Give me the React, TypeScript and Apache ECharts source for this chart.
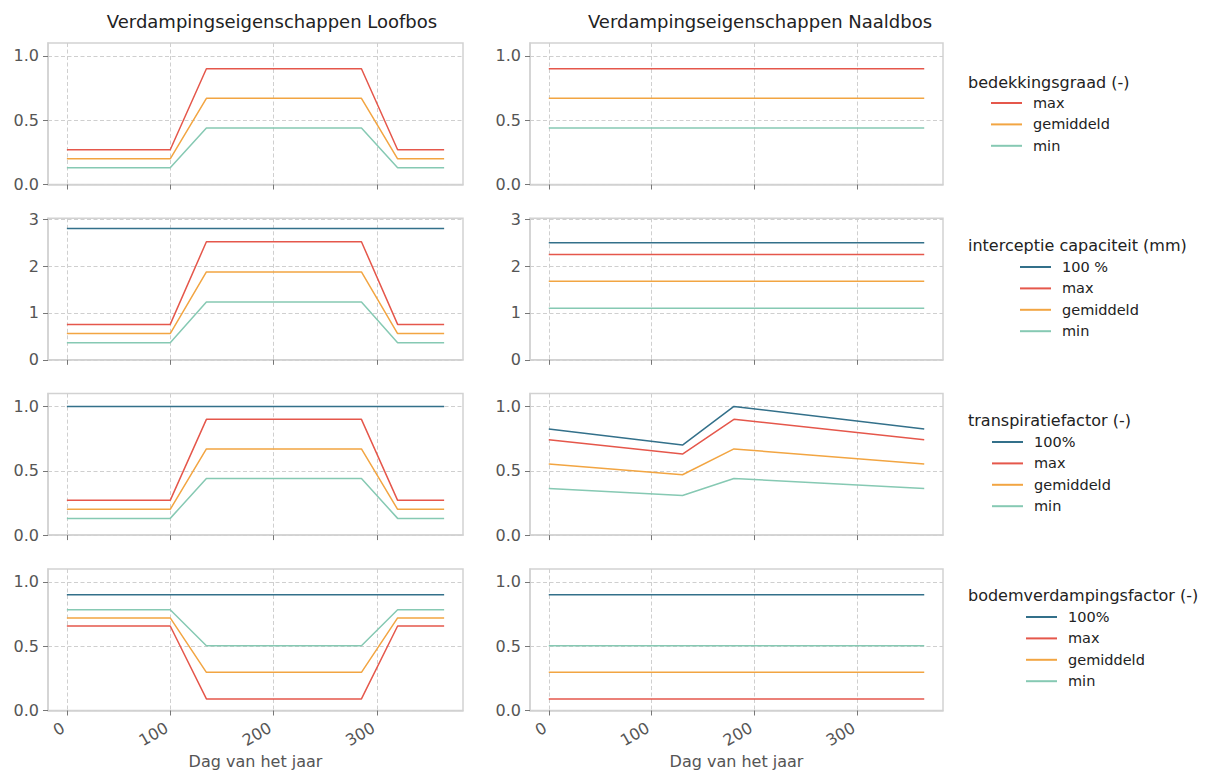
import React, { useEffect, useRef } from 'react';
import * as echarts from 'echarts';

// Dagen (x-waarden)
const dagenLoof = [0, 100, 135, 285, 320, 365];
const dagenConstant = [0, 365];
const dagenTranspNaald = [0, 130, 180, 365];

// Loofbos
const loofBedekMax = [0.27, 0.27, 0.9, 0.9, 0.27, 0.27];
const loofBedekGem = [0.2, 0.2, 0.67, 0.67, 0.2, 0.2];
const loofBedekMin = [0.13, 0.13, 0.44, 0.44, 0.13, 0.13];

const loofInterc100 = [2.8, 2.8, 2.8, 2.8, 2.8, 2.8];
const loofIntercMax = [0.756, 0.756, 2.52, 2.52, 0.756, 0.756];
const loofIntercGem = [0.56, 0.56, 1.876, 1.876, 0.56, 0.56];
const loofIntercMin = [0.364, 0.364, 1.232, 1.232, 0.364, 0.364];

const loofTransp100 = [1, 1, 1, 1, 1, 1];
const loofTranspMax = [0.27, 0.27, 0.9, 0.9, 0.27, 0.27];
const loofTranspGem = [0.2, 0.2, 0.67, 0.67, 0.2, 0.2];
const loofTranspMin = [0.13, 0.13, 0.44, 0.44, 0.13, 0.13];

const loofBodem100 = [0.9, 0.9, 0.9, 0.9, 0.9, 0.9];
const loofBodemMax = [0.657, 0.657, 0.09, 0.09, 0.657, 0.657];
const loofBodemGem = [0.72, 0.72, 0.297, 0.297, 0.72, 0.72];
const loofBodemMin = [0.783, 0.783, 0.504, 0.504, 0.783, 0.783];

// Naaldbos
const naaldBedekMax = [0.9, 0.9];
const naaldBedekGem = [0.67, 0.67];
const naaldBedekMin = [0.44, 0.44];

const naaldInterc100 = [2.5, 2.5];
const naaldIntercMax = [2.25, 2.25];
const naaldIntercGem = [1.675, 1.675];
const naaldIntercMin = [1.1, 1.1];

const naaldTransp100 = [0.824, 0.7, 1.0, 0.824];
const naaldTranspMax = [0.742, 0.63, 0.9, 0.742];
const naaldTranspGem = [0.552, 0.469, 0.67, 0.552];
const naaldTranspMin = [0.363, 0.308, 0.44, 0.363];

const naaldBodem100 = [0.9, 0.9];
const naaldBodemMax = [0.09, 0.09];
const naaldBodemGem = [0.297, 0.297];
const naaldBodemMin = [0.504, 0.504];

// Tick labels / texts
const xTicks = [0, 100, 200, 300];
const yTicksFactor = [0, 0.5, 1.0];
const yTicksInterc = [0, 1, 2, 3];
const kolomTitels = ['Verdampingseigenschappen Loofbos', 'Verdampingseigenschappen Naaldbos'];
const legendTitels = ['bedekkingsgraad (-)', 'interceptie capaciteit (mm)', 'transpiratiefactor (-)', 'bodemverdampingsfactor (-)'];
const xAsNaam = 'Dag van het jaar';

const KLEUR_100 = '#33708a';
const KLEUR_MAX = '#e5574b';
const KLEUR_GEM = '#f2a542';
const KLEUR_MIN = '#86c9b3';
const FONT = 'DejaVu Sans';

const GRID_LEFT = [48, 530];
const GRID_WIDTH = [415, 413];
const ROW_TOP = [43, 218.3, 393.6, 569];
const ROW_H = 141.5;

function buildOption() {
  const grids: any[] = [];
  const xAxes: any[] = [];
  const yAxes: any[] = [];
  const series: any[] = [];

  for (let r = 0; r < 4; r++) {
    for (let c = 0; c < 2; c++) {
      const idx = r * 2 + c;
      grids.push({
        left: GRID_LEFT[c],
        top: ROW_TOP[r],
        width: GRID_WIDTH[c],
        height: ROW_H,
        show: true,
        borderColor: '#d2d2d2',
        borderWidth: 1.5,
        backgroundColor: 'transparent',
      });
      const last = r === 3;
      xAxes.push({
        type: 'value',
        gridIndex: idx,
        min: -18.25,
        max: 383.25,
        name: last ? xAsNaam : '',
        nameLocation: 'middle',
        nameGap: 43,
        nameTextStyle: { fontSize: 16, color: '#555', fontFamily: FONT },
        axisLine: { show: true, onZero: false, lineStyle: { color: '#d2d2d2', width: 1.5 } },
        axisTick: { show: true, length: 5, customValues: xTicks, lineStyle: { color: '#777', width: 1 } },
        axisLabel: {
          show: last,
          customValues: xTicks,
          rotate: 30,
          margin: 14,
          padding: [0, 4, 0, 0],
          fontSize: 16,
          color: '#555',
          fontFamily: FONT,
        },
        splitLine: { show: true, lineStyle: { color: '#cfcfcf', type: [4, 2.5], width: 1 } },
      });
      const interc = r === 1;
      yAxes.push({
        type: 'value',
        gridIndex: idx,
        min: 0,
        max: interc ? 3.02 : 1.1,
        interval: interc ? 1 : 0.5,
        axisLine: { show: true, onZero: false, lineStyle: { color: '#d2d2d2', width: 1.5 } },
        axisTick: { show: true, length: 5, customValues: interc ? yTicksInterc : yTicksFactor, lineStyle: { color: '#777', width: 1 } },
        axisLabel: {
          show: true,
          customValues: interc ? yTicksInterc : yTicksFactor,
          margin: 9,
          fontSize: 16,
          color: '#555',
          fontFamily: FONT,
          formatter: (v: number) => (interc ? String(Math.round(v)) : v.toFixed(1)),
        },
        splitLine: { show: true, lineStyle: { color: '#cfcfcf', type: [4, 2.5], width: 1 } },
      });
    }
  }

  const addLine = (grid: number, name: string, color: string, xs: number[], ys: number[]) => {
    series.push({
      type: 'line',
      name,
      xAxisIndex: grid,
      yAxisIndex: grid,
      data: xs.map((x, i) => [x, ys[i]]),
      showSymbol: false,
      symbol: 'none',
      lineStyle: { color, width: 1.5 },
      itemStyle: { color },
      silent: true,
    });
  };

  // Row 0: bedekkingsgraad
  addLine(0, 'max', KLEUR_MAX, dagenLoof, loofBedekMax);
  addLine(0, 'gemiddeld', KLEUR_GEM, dagenLoof, loofBedekGem);
  addLine(0, 'min', KLEUR_MIN, dagenLoof, loofBedekMin);
  addLine(1, 'max', KLEUR_MAX, dagenConstant, naaldBedekMax);
  addLine(1, 'gemiddeld', KLEUR_GEM, dagenConstant, naaldBedekGem);
  addLine(1, 'min', KLEUR_MIN, dagenConstant, naaldBedekMin);

  // Row 1: interceptie
  addLine(2, '100 %', KLEUR_100, dagenLoof, loofInterc100);
  addLine(2, 'max', KLEUR_MAX, dagenLoof, loofIntercMax);
  addLine(2, 'gemiddeld', KLEUR_GEM, dagenLoof, loofIntercGem);
  addLine(2, 'min', KLEUR_MIN, dagenLoof, loofIntercMin);
  addLine(3, '100 %', KLEUR_100, dagenConstant, naaldInterc100);
  addLine(3, 'max', KLEUR_MAX, dagenConstant, naaldIntercMax);
  addLine(3, 'gemiddeld', KLEUR_GEM, dagenConstant, naaldIntercGem);
  addLine(3, 'min', KLEUR_MIN, dagenConstant, naaldIntercMin);

  // Row 2: transpiratie
  addLine(4, '100%', KLEUR_100, dagenLoof, loofTransp100);
  addLine(4, 'max', KLEUR_MAX, dagenLoof, loofTranspMax);
  addLine(4, 'gemiddeld', KLEUR_GEM, dagenLoof, loofTranspGem);
  addLine(4, 'min', KLEUR_MIN, dagenLoof, loofTranspMin);
  addLine(5, '100%', KLEUR_100, dagenTranspNaald, naaldTransp100);
  addLine(5, 'max', KLEUR_MAX, dagenTranspNaald, naaldTranspMax);
  addLine(5, 'gemiddeld', KLEUR_GEM, dagenTranspNaald, naaldTranspGem);
  addLine(5, 'min', KLEUR_MIN, dagenTranspNaald, naaldTranspMin);

  // Row 3: bodemverdamping
  addLine(6, '100%', KLEUR_100, dagenLoof, loofBodem100);
  addLine(6, 'max', KLEUR_MAX, dagenLoof, loofBodemMax);
  addLine(6, 'gemiddeld', KLEUR_GEM, dagenLoof, loofBodemGem);
  addLine(6, 'min', KLEUR_MIN, dagenLoof, loofBodemMin);
  addLine(7, '100%', KLEUR_100, dagenConstant, naaldBodem100);
  addLine(7, 'max', KLEUR_MAX, dagenConstant, naaldBodemMax);
  addLine(7, 'gemiddeld', KLEUR_GEM, dagenConstant, naaldBodemGem);
  addLine(7, 'min', KLEUR_MIN, dagenConstant, naaldBodemMin);

  const legendBase = {
    orient: 'vertical',
    selectedMode: false,
    icon: 'rect',
    itemWidth: 31,
    itemHeight: 2,
    itemGap: 5.4,
    padding: 0,
    textStyle: { fontSize: 14.5, color: '#222', fontFamily: FONT, lineHeight: 16, padding: [0, 0, 0, 6] },
  };
  const legends = [
    { ...legendBase, left: 991, top: 95, data: ['max', 'gemiddeld', 'min'] },
    { ...legendBase, left: 1020, top: 259, data: ['100 %', 'max', 'gemiddeld', 'min'] },
    { ...legendBase, left: 992, top: 434, data: ['100%', 'max', 'gemiddeld', 'min'] },
    { ...legendBase, left: 1026, top: 609, data: ['100%', 'max', 'gemiddeld', 'min'] },
  ];

  const legendTitleY = [82, 245, 420, 595];
  const graphic: any[] = [];
  legendTitels.forEach((t, i) => {
    graphic.push({
      type: 'text',
      x: 968,
      y: legendTitleY[i],
      silent: true,
      style: { text: t, fontSize: 16, fill: '#222', fontFamily: FONT, textAlign: 'left', textVerticalAlign: 'middle' },
    });
  });
  const titleX = [272, 760];
  kolomTitels.forEach((t, i) => {
    graphic.push({
      type: 'text',
      x: titleX[i],
      y: 21,
      silent: true,
      style: { text: t, fontSize: 18, fill: '#222', fontFamily: FONT, textAlign: 'center', textVerticalAlign: 'middle' },
    });
  });

  return {
    animation: false,
    backgroundColor: '#ffffff',
    textStyle: { fontFamily: FONT },
    grid: grids,
    xAxis: xAxes,
    yAxis: yAxes,
    legend: legends,
    graphic,
    series,
  };
}

export default function App() {
  const ref = useRef<HTMLDivElement>(null);
  useEffect(() => {
    if (!ref.current) return;
    const chart = echarts.init(ref.current, undefined, { renderer: 'svg' });
    chart.setOption(buildOption() as any);
    return () => {
      chart.dispose();
    };
  }, []);
  return (
    <div
      ref={ref}
      style={{ position: 'fixed', left: 0, top: 0, width: 1213, height: 774, background: '#fff' }}
    />
  );
}
